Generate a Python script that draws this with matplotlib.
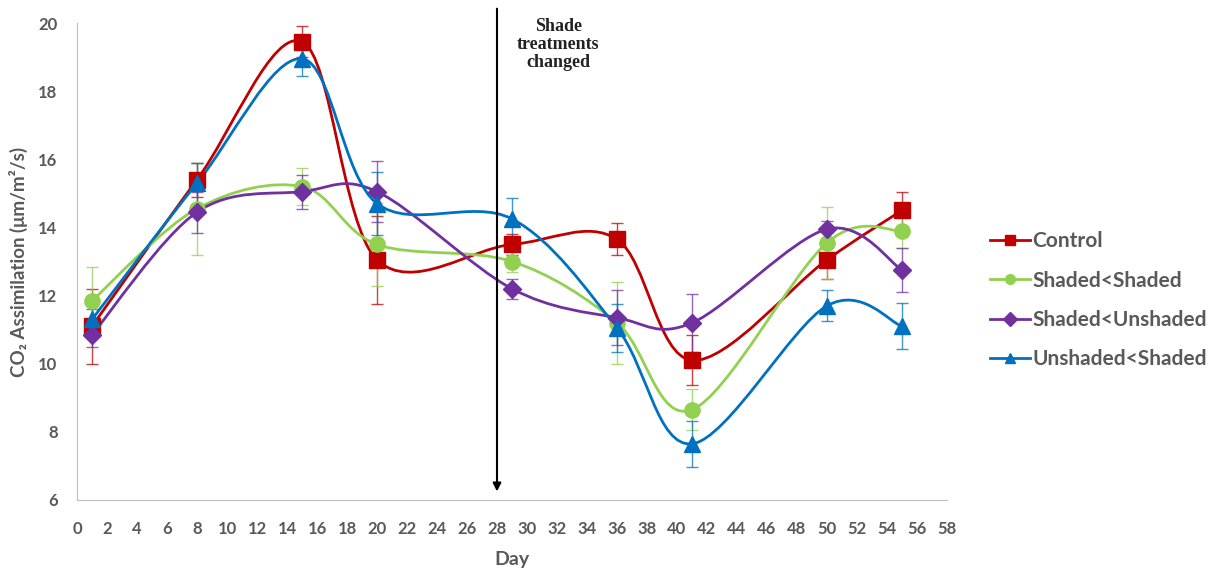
import numpy as np
import matplotlib
matplotlib.use("Agg")
import matplotlib.pyplot as plt
from matplotlib.path import Path
from matplotlib.patches import PathPatch
from matplotlib.lines import Line2D

days = [1, 8, 15, 20, 29, 36, 41, 50, 55]

control = [11.1, 15.4, 19.45, 13.05, 13.5, 13.65, 10.1, 13.05, 14.5]
control_err = [1.1, 0.5, 0.45, 1.3, 0.3, 0.47, 0.73, 0.55, 0.55]

shaded_shaded = [11.85, 14.55, 15.2, 13.5, 13.0, 11.2, 8.65, 13.55, 13.9]
shaded_shaded_err = [1.0, 1.35, 0.55, 1.22, 0.3, 1.2, 0.6, 1.05, 0.5]

shaded_unshaded = [10.85, 14.45, 15.05, 15.05, 12.2, 11.35, 11.2, 13.95, 12.75]
shaded_unshaded_err = [0.35, 0.6, 0.5, 0.9, 0.3, 0.8, 0.85, 0.25, 0.65]

unshaded_shaded = [11.3, 15.3, 18.95, 14.7, 14.25, 11.05, 7.65, 11.7, 11.1]
unshaded_shaded_err = [0.3, 0.6, 0.5, 0.93, 0.6, 0.7, 0.68, 0.45, 0.68]

labels = ["Control", "Shaded<Shaded", "Shaded<Unshaded", "Unshaded<Shaded"]
x_ticks = list(range(0, 60, 2))
y_ticks = list(range(6, 22, 2))
change_day = 28

series = [
    (control, control_err, "#C00000", "s", 12),
    (shaded_shaded, shaded_shaded_err, "#92D050", "o", 11),
    (shaded_unshaded, shaded_unshaded_err, "#7030A0", "D", 9),
    (unshaded_shaded, unshaded_shaded_err, "#0070C0", "^", 12),
]

grey = "#595959"
plt.rcParams["font.family"] = ["Lato", "DejaVu Sans"]


def smooth_path(x, y):
    # Excel-style smoothed line: Catmull-Rom converted to cubic Bezier
    pts = np.column_stack([x, y]).astype(float)
    n = len(pts)
    verts = [pts[0]]
    codes = [Path.MOVETO]
    for i in range(n - 1):
        p0 = pts[max(i - 1, 0)]
        p1 = pts[i]
        p2 = pts[i + 1]
        p3 = pts[min(i + 2, n - 1)]
        verts += [p1 + (p2 - p0) / 6, p2 - (p3 - p1) / 6, p2]
        codes += [Path.CURVE4] * 3
    return Path(verts, codes)


fig = plt.figure(figsize=(12.15, 5.71), dpi=100)
ax = fig.add_axes([77 / 1215, 71 / 571, 870 / 1215, 477 / 571])

handles = []
for (vals, errs, color, marker, ms), label in zip(series, labels):
    ax.errorbar(days, vals, yerr=errs, fmt="none", ecolor=color, elinewidth=1,
                capsize=4, capthick=1, alpha=0.75, zorder=2)
    ax.add_patch(PathPatch(smooth_path(days, vals), fill=False, edgecolor=color,
                           lw=2, zorder=3))
    ax.plot(days, vals, ls="none", marker=marker, markersize=ms, color=color,
            markeredgecolor=color, zorder=4)
    handles.append(Line2D([], [], color=color, lw=2, marker=marker,
                          markersize=7, label=label))

ax.set_xlim(0, 58)
ax.set_ylim(6, 20)
ax.set_xticks(x_ticks)
ax.set_yticks(y_ticks)
ax.tick_params(axis="both", length=0, labelsize=12, labelcolor=grey)
ax.tick_params(axis="x", pad=15)
ax.tick_params(axis="y", pad=14)
for t in ax.get_xticklabels() + ax.get_yticklabels():
    t.set_fontweight("bold")
for side in ["top", "right"]:
    ax.spines[side].set_visible(False)
for side in ["left", "bottom"]:
    ax.spines[side].set_color("#BFBFBF")

ax.set_xlabel("Day", fontsize=14, fontweight="bold", color=grey, labelpad=10)
fig.text(18 / 1215, 1 - 262 / 571, "CO\u2082 Assimilation (\u03bcm/m\u00b2/s)",
         rotation=90, ha="center", va="center", fontsize=13.5,
         fontweight="bold", color=grey)

ax.annotate("", xy=(change_day, 6.25), xytext=(change_day, 20.42),
            arrowprops=dict(arrowstyle="-|>", color="black", lw=1.5,
                            mutation_scale=12, shrinkA=0, shrinkB=0),
            annotation_clip=False)
ax.text(32.1, 20.16, "Shade\ntreatments\nchanged", ha="center", va="top",
        fontsize=13, fontweight="bold", family="Liberation Serif",
        color="#222222", linespacing=1.1)

fig.legend(handles=handles, loc="center left", bbox_to_anchor=(0.799, 0.474),
           frameon=False, handlelength=1.95, handletextpad=0.1,
           labelspacing=0.93, labelcolor=grey,
           prop={"weight": "bold", "size": 15})

fig.savefig("out.png", dpi=100)
